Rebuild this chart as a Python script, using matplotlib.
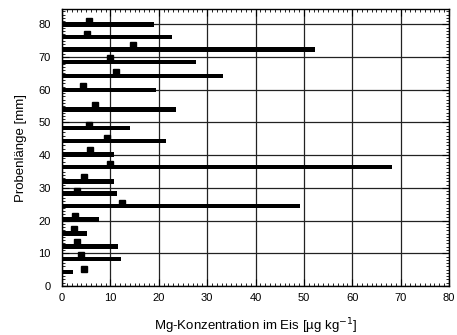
import matplotlib
matplotlib.use("Agg")
import matplotlib.pyplot as plt
from matplotlib.ticker import MultipleLocator

plt.rcParams['font.family'] = ['Liberation Sans', 'DejaVu Sans']

# Sample positions (Probenlänge, mm) of the bars
bar_pos = [79.9, 76.1, 72.4, 68.5, 64.2, 59.9, 53.9, 48.3, 44.3, 40.2,
           36.4, 32.0, 28.2, 24.4, 20.3, 16.0, 12.1, 8.3, 4.3]
# Bar values (Mg concentration, µg/kg)
bar_val = [19.0, 22.7, 52.4, 27.8, 33.2, 19.5, 23.6, 14.0, 21.6, 10.8,
           68.2, 10.8, 11.3, 49.2, 7.6, 5.2, 11.5, 12.1, 2.2]
# Square markers
mark_x = [5.6, 5.1, 14.7, 10.0, 11.1, 4.3, 6.8, 5.6, 9.2, 5.8,
          10.0, 4.6, 3.2, 12.3, 2.7, 2.5, 3.2, 3.9, 4.6]
mark_y = [81.1, 77.2, 73.6, 69.7, 65.4, 61.1, 55.2, 49.1, 45.4, 41.5,
          37.4, 33.3, 29.2, 25.5, 21.4, 17.3, 13.4, 9.4, 5.3]

xticks = [0, 10, 20, 30, 40, 50, 60, 70, 80]
yticks = [0, 10, 20, 30, 40, 50, 60, 70, 80]

fig = plt.figure(figsize=(4.57, 3.35), dpi=100)
ax = fig.add_axes([62/457, 1-286/335, (449-62)/457, (286-9)/335])

ax.barh(bar_pos, bar_val, height=1.4, color='black', zorder=3)
ax.plot(mark_x, mark_y, 's', color='black', ms=4.2, zorder=4)

ax.set_xlim(0, 80)
ax.set_ylim(0, 84.7)
ax.set_xticks(xticks)
ax.set_yticks(yticks)
ax.xaxis.set_minor_locator(MultipleLocator(1))
ax.yaxis.set_minor_locator(MultipleLocator(1))
ax.tick_params(which='both', direction='in', top=True, right=True, labelsize=8)
ax.tick_params(which='major', length=5, width=0.8)
ax.tick_params(which='minor', length=2.5, width=0.6)
ax.tick_params(axis='x', which='major', pad=5)
ax.tick_params(axis='y', which='major', pad=8)
ax.grid(True, which='major', color='#222222', linewidth=0.9, zorder=1)
ax.set_axisbelow(True)
for s in ax.spines.values():
    s.set_linewidth(1.0)

ax.set_xlabel('Mg-Konzentration im Eis [µg kg$^{-1}$]', fontsize=9.5, labelpad=10)
ax.set_ylabel('Probenlänge [mm]', fontsize=9.5, labelpad=8)

fig.savefig('out.png', dpi=100)
